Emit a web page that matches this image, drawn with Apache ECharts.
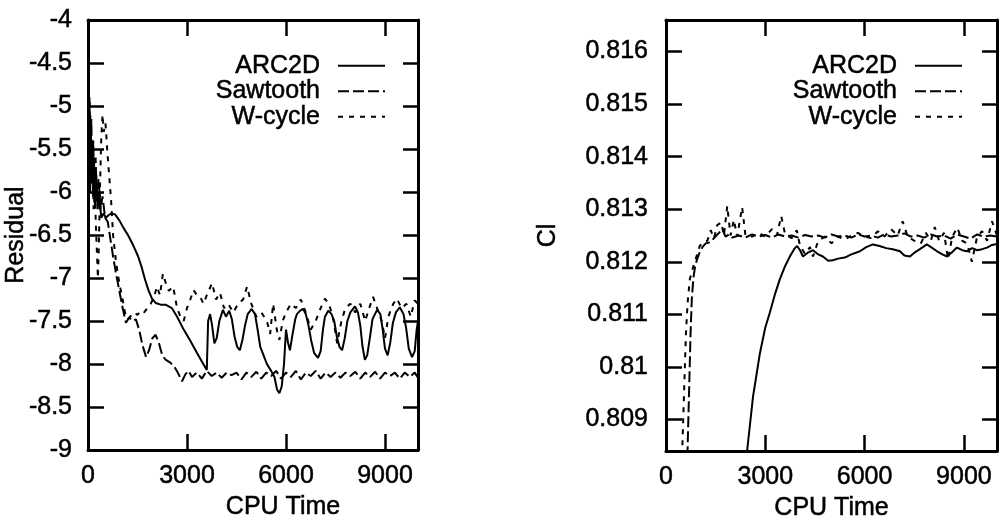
<!DOCTYPE html>
<html><head><meta charset="utf-8">
<script src="https://cdn.jsdelivr.net/npm/echarts@6/dist/echarts.min.js"></script>
<style>html,body{margin:0;padding:0;background:#fff}#c{width:999px;height:518px}</style>
</head><body><div id="c"></div>
<script>
// ---------- data ----------
const seriesNames = ['ARC2D', 'Sawtooth', 'W-cycle'];
const xTicks = [0, 3000, 6000, 9000];
const residualTicks = [-9, -8.5, -8, -7.5, -7, -6.5, -6, -5.5, -5, -4.5, -4];
const clTicks = [0.809, 0.81, 0.811, 0.812, 0.813, 0.814, 0.815, 0.816];

// Residual vs CPU time (left panel)
const arc2dResidual = [[0,-6.05],[15,-4.75],[30,-5.9],[45,-4.9],[60,-6.0],[80,-5.2],[100,-5.9],[125,-5.4],[150,-6.05],[180,-5.6],[210,-6.15],[250,-5.8],[290,-6.2],[340,-6.0],[400,-6.3],[470,-6.25],[540,-6.3],[620,-6.27],[700,-6.25],[820,-6.26],[950,-6.33],[1080,-6.42],[1210,-6.5],[1370,-6.62],[1520,-6.75],[1630,-6.88],[1730,-7.02],[1840,-7.15],[1940,-7.24],[2050,-7.29],[2200,-7.31],[2350,-7.31],[2540,-7.35],[2700,-7.45],[2900,-7.6],[3100,-7.73],[3300,-7.87],[3450,-7.97],[3600,-8.07],[3640,-7.5],[3700,-7.42],[3760,-7.55],[3830,-7.76],[3900,-7.7],[3980,-7.5],[4090,-7.37],[4180,-7.45],[4280,-7.38],[4360,-7.48],[4440,-7.68],[4520,-7.8],[4600,-7.84],[4680,-7.72],[4760,-7.55],[4840,-7.42],[4960,-7.36],[5060,-7.42],[5140,-7.6],[5220,-7.8],[5300,-7.88],[5420,-8.0],[5550,-8.08],[5650,-8.15],[5730,-8.3],[5800,-8.34],[5870,-8.26],[5940,-8.0],[6000,-7.6],[6060,-7.75],[6120,-7.84],[6200,-7.65],[6280,-7.48],[6330,-7.42],[6430,-7.38],[6520,-7.36],[6600,-7.42],[6680,-7.55],[6760,-7.72],[6850,-7.87],[6970,-7.93],[7050,-7.85],[7120,-7.6],[7180,-7.45],[7280,-7.38],[7380,-7.42],[7460,-7.5],[7540,-7.68],[7620,-7.8],[7700,-7.84],[7780,-7.7],[7860,-7.5],[7950,-7.4],[8090,-7.33],[8180,-7.4],[8250,-7.55],[8320,-7.8],[8390,-7.95],[8460,-7.9],[8540,-7.7],[8620,-7.48],[8760,-7.37],[8860,-7.42],[8930,-7.6],[9000,-7.82],[9080,-7.9],[9160,-7.75],[9240,-7.52],[9330,-7.4],[9450,-7.34],[9560,-7.42],[9640,-7.58],[9720,-7.82],[9820,-7.92],[9900,-7.85],[9960,-7.6],[10000,-7.5]];
const sawtoothResidual = [[0,-4.55],[25,-5.3],[50,-4.95],[75,-5.6],[100,-5.15],[130,-5.8],[160,-5.4],[190,-6.0],[230,-5.6],[270,-6.1],[320,-5.85],[380,-6.2],[440,-6.05],[520,-6.3],[600,-6.35],[680,-6.55],[760,-6.75],[850,-6.95],[950,-7.15],[1050,-7.35],[1150,-7.52],[1250,-7.46],[1350,-7.5],[1450,-7.48],[1550,-7.6],[1650,-7.78],[1760,-7.92],[1850,-7.84],[1950,-7.7],[2050,-7.66],[2150,-7.76],[2250,-7.9],[2350,-7.95],[2480,-7.98],[2600,-8.02],[2720,-8.1],[2850,-8.2],[2950,-8.12],[3050,-8.08],[3150,-8.15],[3300,-8.1],[3450,-8.17],[3600,-8.08],[3750,-8.14],[3900,-8.1],[4050,-8.16],[4200,-8.1],[4350,-8.13],[4500,-8.1],[4650,-8.18],[4800,-8.1],[4950,-8.15],[5100,-8.09],[5250,-8.17],[5400,-8.1],[5550,-8.14],[5700,-8.08],[5850,-8.17],[6000,-8.1],[6150,-8.15],[6300,-8.08],[6450,-8.18],[6600,-8.1],[6750,-8.14],[6900,-8.08],[7050,-8.17],[7200,-8.1],[7350,-8.15],[7500,-8.1],[7650,-8.16],[7800,-8.1],[7950,-8.14],[8100,-8.09],[8250,-8.17],[8400,-8.1],[8550,-8.15],[8700,-8.09],[8850,-8.17],[9000,-8.1],[9150,-8.14],[9300,-8.1],[9450,-8.17],[9600,-8.1],[9750,-8.15],[9900,-8.1],[10000,-8.16]];
const wcycleResidual = [[0,-5.2],[20,-4.85],[45,-5.6],[70,-5.1],[100,-5.9],[130,-5.5],[170,-6.2],[210,-6.0],[240,-6.4],[270,-6.7],[300,-7.0],[330,-6.6],[360,-6.0],[400,-5.4],[440,-5.1],[480,-5.3],[530,-5.2],[580,-5.5],[640,-5.8],[700,-6.1],[760,-6.5],[830,-6.75],[900,-6.95],[970,-7.1],[1050,-7.25],[1120,-7.4],[1200,-7.48],[1300,-7.44],[1400,-7.4],[1500,-7.43],[1600,-7.38],[1700,-7.4],[1800,-7.35],[1900,-7.3],[2000,-7.22],[2090,-7.1],[2180,-7.2],[2270,-6.95],[2350,-7.05],[2450,-7.15],[2580,-7.1],[2700,-7.35],[2800,-7.45],[2900,-7.5],[3000,-7.35],[3100,-7.25],[3200,-7.14],[3300,-7.2],[3400,-7.22],[3500,-7.3],[3600,-7.2],[3760,-7.06],[3880,-7.25],[4000,-7.17],[4120,-7.35],[4250,-7.3],[4400,-7.4],[4550,-7.3],[4700,-7.25],[4820,-7.1],[4950,-7.3],[5100,-7.45],[5250,-7.4],[5420,-7.5],[5520,-7.65],[5610,-7.3],[5720,-7.6],[5800,-7.72],[5900,-7.5],[6000,-7.4],[6150,-7.3],[6300,-7.35],[6450,-7.25],[6600,-7.4],[6750,-7.6],[6900,-7.5],[7050,-7.35],[7180,-7.24],[7300,-7.3],[7420,-7.45],[7550,-7.76],[7680,-7.5],[7800,-7.35],[7950,-7.3],[8100,-7.4],[8250,-7.3],[8400,-7.5],[8520,-7.35],[8640,-7.22],[8760,-7.35],[8900,-7.5],[9000,-7.7],[9100,-7.45],[9250,-7.3],[9360,-7.24],[9500,-7.35],[9650,-7.3],[9780,-7.45],[9900,-7.26],[10000,-7.3]];

// Cl vs CPU time (right panel)
const arc2dCl = [[2300,0.8060],[2450,0.8084],[2630,0.80944],[2840,0.81027],[3000,0.81075],[3140,0.81104],[3300,0.8114],[3440,0.81167],[3600,0.81192],[3750,0.81211],[3880,0.81225],[3960,0.8123],[4050,0.81222],[4140,0.8121],[4300,0.81218],[4440,0.81222],[4600,0.81214],[4740,0.8121],[4900,0.81202],[5040,0.81203],[5200,0.81206],[5400,0.81208],[5600,0.81214],[5860,0.8122],[6050,0.81228],[6250,0.81233],[6450,0.8123],[6650,0.81226],[6850,0.81224],[7070,0.8122],[7200,0.81212],[7370,0.8121],[7520,0.81218],[7670,0.81224],[7880,0.81233],[8050,0.81226],[8190,0.8122],[8350,0.81214],[8490,0.8121],[8640,0.81218],[8790,0.81227],[8950,0.81222],[9090,0.8122],[9250,0.81226],[9400,0.81222],[9550,0.81224],[9700,0.81227],[9850,0.81232],[10000,0.81234]];
const sawtoothCl = [[500,0.8060],[650,0.8084],[700,0.8096],[740,0.8106],[780,0.8113],[830,0.8117],[880,0.81192],[940,0.81205],[1000,0.81215],[1100,0.81228],[1200,0.81235],[1330,0.81237],[1450,0.81245],[1600,0.81255],[1700,0.81262],[1800,0.81248],[1900,0.81252],[2000,0.81246],[2200,0.8125],[2400,0.81246],[2600,0.81252],[2800,0.81248],[3000,0.81251],[3200,0.81246],[3400,0.81252],[3600,0.81248],[3800,0.8125],[4000,0.81246],[4200,0.81251],[4400,0.81248],[4600,0.8125],[4800,0.81246],[5000,0.81252],[5200,0.81248],[5400,0.8125],[5600,0.81246],[5800,0.81252],[6000,0.81248],[6200,0.8125],[6400,0.81246],[6600,0.81252],[6800,0.81248],[7000,0.8125],[7200,0.81254],[7400,0.81248],[7600,0.8125],[7800,0.81246],[8000,0.81252],[8200,0.81248],[8400,0.8125],[8600,0.81244],[8800,0.81252],[9000,0.81248],[9200,0.81244],[9400,0.81252],[9600,0.81248],[9800,0.8125],[10000,0.81248]];
const wcycleCl = [[380,0.8060],[500,0.8086],[550,0.8096],[600,0.8106],[650,0.8112],[720,0.81167],[820,0.8119],[920,0.8121],[1020,0.8123],[1120,0.81237],[1250,0.8124],[1350,0.8126],[1450,0.81245],[1550,0.8127],[1670,0.81275],[1750,0.8125],[1850,0.81306],[1950,0.8125],[2050,0.8128],[2150,0.81248],[2300,0.81304],[2400,0.8125],[2600,0.81248],[2800,0.81255],[3000,0.81248],[3200,0.81262],[3350,0.8125],[3480,0.81287],[3600,0.81252],[3800,0.81245],[3950,0.8126],[4050,0.8123],[4200,0.81215],[4350,0.81228],[4440,0.8121],[4600,0.8124],[4800,0.81248],[5000,0.81235],[5200,0.81248],[5400,0.81242],[5600,0.8125],[5800,0.81255],[6000,0.81248],[6200,0.81245],[6400,0.81258],[6600,0.81248],[6800,0.81262],[7000,0.8125],[7150,0.81277],[7300,0.81248],[7500,0.8124],[7700,0.81235],[7850,0.81255],[8000,0.8124],[8120,0.81266],[8250,0.8124],[8400,0.81255],[8520,0.81205],[8650,0.81248],[8800,0.81265],[8950,0.8124],[9100,0.81235],[9240,0.812],[9400,0.81248],[9550,0.81258],[9700,0.8124],[9850,0.81277],[10000,0.8125]];

// ---------- styling ----------
const FONT = '"Liberation Sans", Arial, Helvetica, sans-serif';
const BLACK = '#000';
const FS = 25;
const lineTypes = { 'ARC2D': 'solid', 'Sawtooth': [11, 4], 'W-cycle': [5, 6] };
const heavy = { textBorderColor: BLACK, textBorderWidth: 0.5 };

function frameLine() { return { show: true, onZero: false, lineStyle: { color: BLACK, width: 3 } }; }
function tickStyle(values, len) {
  return { show: true, inside: true, length: len, customValues: values, lineStyle: { color: BLACK, width: 2.5 } };
}
const labelFont = Object.assign({ color: BLACK, fontSize: FS, fontFamily: FONT }, heavy);
const plainNum = function (v) { return String(v); };

function xAxesFor(grid, namePad) {
  return [
    { type: 'value', gridIndex: grid, position: 'bottom', min: 0, max: 10000,
      name: 'CPU Time', nameLocation: 'middle', nameGap: 45, nameMoveOverlap: false,
      nameTextStyle: Object.assign({ color: BLACK, fontSize: FS, fontFamily: FONT, padding: namePad }, heavy),
      axisLine: frameLine(), axisTick: tickStyle(xTicks, 16),
      axisLabel: Object.assign({ margin: 14, customValues: xTicks, formatter: plainNum }, labelFont),
      splitLine: { show: false } },
    { type: 'value', gridIndex: grid, position: 'top', min: 0, max: 10000,
      axisLine: frameLine(), axisTick: tickStyle(xTicks, 16),
      axisLabel: { show: false }, splitLine: { show: false } }
  ];
}
function yAxesFor(grid, min, max, ticks, name, nameGap, labelMargin) {
  return [
    { type: 'value', gridIndex: grid, position: 'left', min: min, max: max,
      name: name, nameLocation: 'middle', nameGap: nameGap, nameRotate: 90, nameMoveOverlap: false,
      nameTextStyle: Object.assign({ color: BLACK, fontSize: FS, fontFamily: FONT }, heavy),
      axisLine: frameLine(), axisTick: tickStyle(ticks, 16),
      axisLabel: Object.assign({ margin: labelMargin, customValues: ticks, formatter: plainNum }, labelFont),
      splitLine: { show: false } },
    { type: 'value', gridIndex: grid, position: 'right', min: min, max: max,
      axisLine: frameLine(), axisTick: tickStyle(ticks, 15),
      axisLabel: { show: false }, splitLine: { show: false } }
  ];
}
function mkSeries(name, data, xi, yi) {
  return { name: name, type: 'line', data: data, xAxisIndex: xi, yAxisIndex: yi,
    showSymbol: false, symbol: 'none', smooth: false, animation: false, clip: true,
    lineStyle: { color: BLACK, width: 2, type: lineTypes[name] },
    itemStyle: { color: BLACK } };
}
function legendFor(right) {
  return { show: true, data: seriesNames, orient: 'vertical', right: right, top: 48,
    align: 'right', itemWidth: 47, itemHeight: 12, itemGap: 0, selectedMode: false,
    itemStyle: { color: 'rgba(0,0,0,0)', borderColor: 'rgba(0,0,0,0)', borderWidth: 0, opacity: 0 },
    textStyle: Object.assign({ color: BLACK, fontSize: FS, fontFamily: FONT, padding: [0, 13, 0, 0] }, heavy) };
}

const chart = echarts.init(document.getElementById('c'), null, { renderer: 'canvas' });
chart.setOption({
  backgroundColor: '#fff',
  animation: false,
  textStyle: { fontFamily: FONT },
  grid: [
    { left: 88, top: 20, width: 330, height: 430, containLabel: false, outerBoundsMode: 'none' },
    { left: 666, top: 20, width: 331, height: 431, containLabel: false, outerBoundsMode: 'none' }
  ],
  legend: [legendFor(608), legendFor(31)],
  xAxis: xAxesFor(0, [0, 0, 0, 60]).concat(xAxesFor(1, 0)),
  yAxis: yAxesFor(0, -9, -4, residualTicks, 'Residual', 59, 16)
    .concat(yAxesFor(1, 0.8084, 0.8166, clTicks, 'Cl', 105, 18)),
  series: [
    mkSeries('ARC2D', arc2dResidual, 0, 0),
    mkSeries('Sawtooth', sawtoothResidual, 0, 0),
    mkSeries('W-cycle', wcycleResidual, 0, 0),
    mkSeries('ARC2D', arc2dCl, 2, 2),
    mkSeries('Sawtooth', sawtoothCl, 2, 2),
    mkSeries('W-cycle', wcycleCl, 2, 2)
  ]
});
</script></body></html>
